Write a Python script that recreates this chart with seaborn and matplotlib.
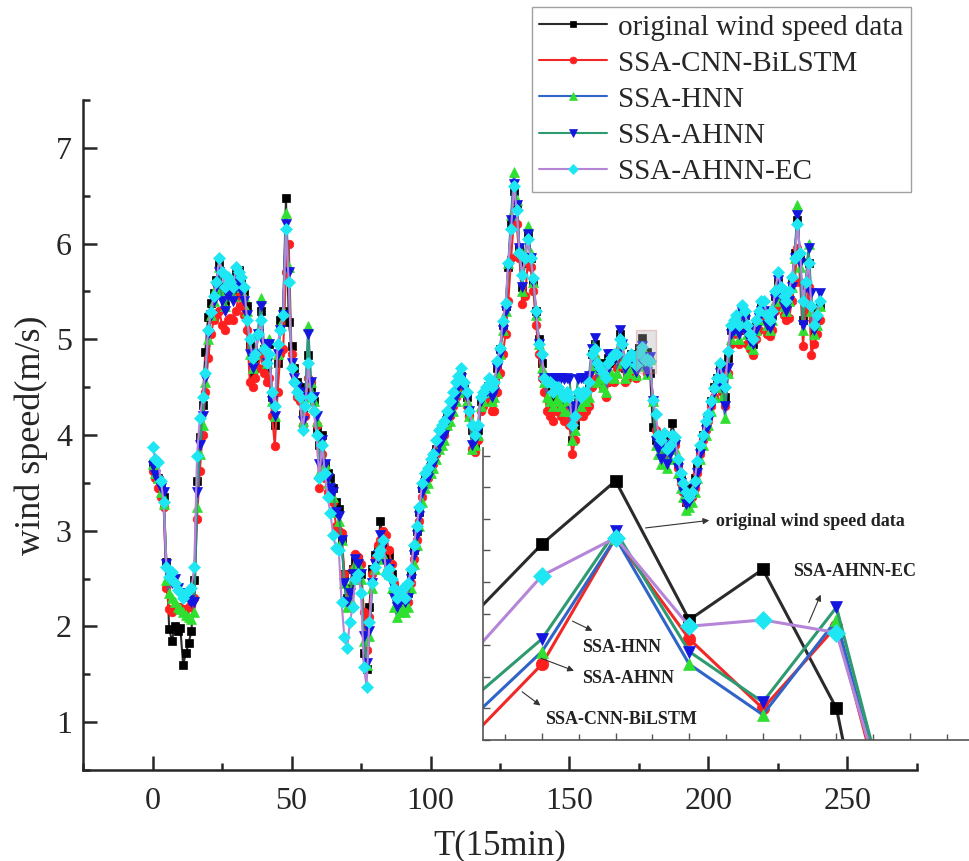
import numpy as np
import matplotlib
matplotlib.use("Agg")
import matplotlib.pyplot as plt
from matplotlib.patches import Rectangle
from matplotlib.ticker import MultipleLocator, NullFormatter
import seaborn as sns

sns.set_style("ticks")
plt.rcParams["font.family"] = ["Liberation Serif", "DejaVu Serif"]

# wind speed (m/s), one value per 15 min step, t = 0..240
original = [
    3.70, 3.62, 3.55, 3.45, 3.35, 2.67, 1.97, 1.85, 2.00, 1.95,
    1.98, 1.60, 1.72, 1.83, 1.95, 2.48, 3.52, 3.98, 4.31, 4.87,
    5.23, 5.38, 5.48, 5.62, 5.80, 5.55, 5.40, 5.55, 5.62, 5.50,
    5.70, 5.72, 5.60, 5.50, 5.35, 4.95, 4.62, 4.80, 5.05, 5.30,
    4.90, 4.70, 4.95, 4.40, 4.10, 4.75, 5.20, 5.30, 6.48, 5.18,
    4.93, 4.70, 4.55, 4.50, 4.22, 4.45, 4.84, 4.50, 4.35, 4.05,
    3.90, 4.00, 3.70, 3.60, 3.55, 3.45, 3.30, 3.23, 2.90, 2.55,
    2.30, 2.40, 2.60, 2.68, 2.70, 2.55, 1.72, 1.55, 2.20, 2.60,
    2.75, 2.80, 3.10, 2.85, 2.70, 2.75, 2.55, 2.40, 2.35, 2.25,
    2.30, 2.25, 2.35, 2.55, 2.80, 3.00, 3.20, 3.45, 3.55, 3.62,
    3.70, 3.75, 3.85, 3.95, 4.00, 4.05, 4.20, 4.25, 4.35, 4.45,
    4.50, 4.62, 4.50, 4.40, 4.25, 4.05, 3.90, 4.05, 4.35, 4.40,
    4.45, 4.50, 4.40, 4.45, 4.70, 4.90, 5.15, 5.35, 5.75, 6.20,
    6.55, 6.40, 5.95, 5.55, 5.80, 6.10, 5.85, 5.60, 5.30, 5.00,
    4.75, 4.60, 4.55, 4.50, 4.30, 4.35, 4.45, 4.40, 4.30, 4.35,
    4.30, 3.95, 4.10, 4.40, 4.35, 4.38, 4.40, 4.50, 4.85, 4.95,
    4.70, 4.75, 4.60, 4.55, 4.80, 4.75, 4.85, 4.80, 5.05, 4.95,
    4.70, 4.75, 4.85, 4.80, 4.79, 4.91, 5.01, 4.79, 4.87, 4.65,
    4.08, 3.95, 3.90, 3.85, 4.00, 3.80, 3.95, 4.13, 3.95, 3.70,
    3.55, 3.45, 3.30, 3.35, 3.45, 3.55, 3.70, 3.85, 4.00, 4.10,
    4.20, 4.35, 4.50, 4.60, 4.70, 4.55, 4.40, 4.80, 5.10, 5.15,
    5.20, 5.10, 5.30, 5.25, 5.10, 5.00, 4.95, 5.15, 5.25, 5.35,
    5.30, 5.20, 5.15, 5.25, 5.45, 5.60, 5.50, 5.40, 5.35, 5.45,
    5.60, 5.90, 6.25, 5.85, 5.20, 5.55, 5.80, 5.30, 5.05, 5.20, 5.35,
]

cnn_bilstm = [
    3.62, 3.55, 3.45, 3.35, 3.25, 2.40, 2.18, 2.15, 2.20, 2.18,
    2.20, 2.15, 2.18, 2.20, 2.22, 2.30, 3.12, 3.62, 4.00, 4.45,
    4.80, 5.05, 5.20, 5.25, 5.30, 5.15, 5.10, 5.20, 5.22, 5.20,
    5.30, 5.45, 5.35, 5.25, 5.10, 4.55, 4.50, 4.60, 4.70, 4.85,
    4.65, 4.55, 4.60, 4.20, 3.88, 4.45, 4.85, 4.90, 5.70, 6.00,
    4.85, 4.55, 4.40, 4.35, 4.10, 4.20, 4.60, 4.55, 4.25, 4.10,
    3.45, 3.80, 3.55, 3.40, 3.35, 3.30, 3.05, 3.00, 2.98, 2.55,
    2.25, 2.35, 2.60, 2.76, 2.72, 2.65, 2.15, 1.75, 2.10, 2.55,
    2.70, 2.85, 2.90, 3.00, 2.95, 2.80, 2.65, 2.45, 2.35, 2.30,
    2.25, 2.20, 2.25, 2.45, 2.70, 2.90, 3.10, 3.35, 3.50, 3.55,
    3.65, 3.70, 3.80, 3.90, 3.95, 4.00, 4.10, 4.20, 4.30, 4.40,
    4.45, 4.55, 4.45, 4.30, 4.20, 3.85, 3.82, 3.95, 4.25, 4.30,
    4.40, 4.35, 4.25, 4.25, 4.45, 4.65, 4.85, 5.05, 5.40, 5.85,
    6.25, 6.20, 5.85, 5.37, 5.45, 5.80, 5.75, 5.50, 5.15, 4.85,
    4.60, 4.45, 4.25, 4.20, 4.15, 4.25, 4.30, 4.20, 4.15, 4.25,
    4.10, 3.80, 3.95, 4.20, 4.25, 4.20, 4.25, 4.30, 4.50, 4.80,
    4.60, 4.55, 4.50, 4.40, 4.55, 4.60, 4.55, 4.70, 4.85, 4.75,
    4.55, 4.60, 4.65, 4.62, 4.60, 4.72, 4.92, 4.76, 4.65, 4.78,
    4.34, 4.05, 3.95, 3.85, 3.80, 3.80, 3.85, 3.95, 3.90, 3.65,
    3.50, 3.40, 3.30, 3.30, 3.35, 3.45, 3.60, 3.80, 3.95, 4.05,
    4.15, 4.30, 4.40, 4.50, 4.60, 4.45, 4.30, 4.65, 4.95, 5.05,
    5.10, 4.95, 5.15, 5.10, 4.95, 4.90, 4.84, 5.00, 5.10, 5.20,
    5.20, 5.05, 5.03, 5.10, 5.30, 5.45, 5.35, 5.25, 5.20, 5.22,
    5.40, 5.60, 5.95, 5.60, 4.93, 5.30, 5.55, 4.84, 4.95, 5.05, 5.20,
]

hnn = [
    3.70, 3.60, 3.55, 3.40, 3.28, 2.48, 2.35, 2.30, 2.25, 2.20,
    2.18, 2.15, 2.12, 2.10, 2.08, 2.15, 3.25, 3.80, 4.10, 4.55,
    5.00, 5.25, 5.40, 5.55, 5.75, 5.50, 5.35, 5.55, 5.55, 5.45,
    5.60, 5.65, 5.55, 5.45, 5.30, 4.85, 4.70, 4.85, 5.10, 5.43,
    4.95, 4.75, 5.00, 4.35, 4.20, 4.85, 5.15, 5.30, 6.32, 5.75,
    4.75, 4.60, 4.50, 4.45, 4.15, 4.40, 5.14, 4.55, 4.35, 4.15,
    3.60, 3.95, 3.70, 3.50, 3.40, 3.35, 3.20, 3.10, 2.90, 2.45,
    2.20, 2.30, 2.50, 2.65, 2.65, 2.50, 1.85, 1.60, 1.90, 2.40,
    2.60, 2.70, 2.85, 2.75, 2.60, 2.55, 2.40, 2.20, 2.10, 2.15,
    2.20, 2.15, 2.20, 2.40, 2.65, 2.85, 3.05, 3.30, 3.45, 3.50,
    3.60, 3.65, 3.75, 3.85, 3.90, 3.95, 4.10, 4.15, 4.25, 4.35,
    4.45, 4.55, 4.45, 4.35, 4.20, 3.85, 3.90, 4.00, 4.30, 4.35,
    4.45, 4.45, 4.35, 4.40, 4.65, 4.85, 5.10, 5.30, 5.80, 6.30,
    6.75, 6.45, 5.95, 5.50, 5.90, 6.18, 5.90, 5.60, 5.25, 4.95,
    4.70, 4.55, 4.40, 4.35, 4.30, 4.35, 4.40, 4.30, 4.25, 4.35,
    4.25, 3.95, 4.05, 4.35, 4.30, 4.35, 4.35, 4.40, 4.70, 4.85,
    4.55, 4.60, 4.50, 4.45, 4.65, 4.65, 4.60, 4.65, 4.95, 4.75,
    4.60, 4.65, 4.70, 4.70, 4.63, 4.74, 4.92, 4.72, 4.64, 4.79,
    4.35, 3.90, 3.80, 3.70, 3.87, 3.65, 3.75, 3.90, 3.85, 3.60,
    3.45, 3.35, 3.22, 3.25, 3.30, 3.40, 3.55, 3.75, 3.90, 4.00,
    4.10, 4.25, 4.40, 4.50, 4.60, 4.40, 4.18, 4.65, 5.00, 5.10,
    5.15, 5.00, 5.25, 5.20, 5.05, 4.95, 4.90, 5.10, 5.20, 5.30,
    5.30, 5.15, 5.10, 5.20, 5.40, 5.60, 5.45, 5.35, 5.30, 5.40,
    5.55, 5.85, 6.40, 5.75, 5.10, 5.60, 5.99, 5.30, 5.05, 5.15, 5.35,
]

ahnn = [
    3.68, 3.58, 3.52, 3.45, 3.40, 2.65, 2.55, 2.45, 2.50, 2.40,
    2.35, 2.30, 2.32, 2.28, 2.25, 2.25, 3.40, 3.90, 4.20, 4.60,
    5.05, 5.25, 5.40, 5.55, 5.70, 5.40, 5.30, 5.45, 5.50, 5.40,
    5.55, 5.60, 5.50, 5.40, 5.25, 4.85, 4.70, 4.85, 5.05, 5.35,
    4.95, 4.75, 4.95, 4.35, 4.20, 4.85, 5.10, 5.25, 6.20, 5.70,
    4.75, 4.60, 4.50, 4.45, 4.15, 4.40, 5.05, 4.55, 4.40, 4.20,
    3.70, 3.95, 3.70, 3.55, 3.45, 3.40, 3.20, 3.15, 2.90, 2.45,
    2.25, 2.35, 2.55, 2.70, 2.65, 2.55, 1.90, 1.62, 1.95, 2.45,
    2.65, 2.75, 2.95, 2.85, 2.65, 2.60, 2.45, 2.30, 2.20, 2.25,
    2.30, 2.25, 2.30, 2.50, 2.75, 2.95, 3.15, 3.40, 3.50, 3.55,
    3.65, 3.70, 3.80, 3.90, 3.95, 4.00, 4.15, 4.20, 4.30, 4.40,
    4.50, 4.60, 4.50, 4.40, 4.25, 3.90, 3.95, 4.05, 4.35, 4.40,
    4.45, 4.50, 4.40, 4.45, 4.70, 4.85, 5.10, 5.30, 5.75, 6.25,
    6.62, 6.40, 5.95, 5.55, 5.85, 6.10, 5.85, 5.60, 5.25, 4.95,
    4.80, 4.60, 4.60, 4.60, 4.60, 4.60, 4.60, 4.60, 4.58, 4.60,
    4.58, 4.25, 4.30, 4.58, 4.60, 4.60, 4.60, 4.62, 4.90, 5.01,
    4.70, 4.70, 4.70, 4.65, 4.85, 4.85, 4.80, 4.85, 5.10, 4.95,
    4.70, 4.75, 4.80, 4.78, 4.66, 4.76, 4.93, 4.74, 4.66, 4.81,
    4.36, 3.94, 3.85, 3.75, 3.90, 3.70, 3.80, 3.95, 3.90, 3.65,
    3.50, 3.40, 3.28, 3.30, 3.35, 3.45, 3.60, 3.80, 3.95, 4.05,
    4.15, 4.30, 4.45, 4.55, 4.65, 4.50, 4.30, 4.70, 5.05, 5.10,
    5.15, 5.05, 5.28, 5.20, 5.05, 4.98, 4.95, 5.10, 5.22, 5.30,
    5.30, 5.15, 5.12, 5.22, 5.42, 5.62, 5.45, 5.35, 5.30, 5.40,
    5.55, 5.85, 6.30, 5.80, 5.15, 5.55, 5.95, 5.48, 5.10, 5.20, 5.48,
]

ahnn_ec = [
    3.87, 3.75, 3.72, 3.52, 3.30, 2.62, 2.52, 2.57, 2.45, 2.38,
    2.36, 2.30, 2.35, 2.38, 2.40, 2.62, 3.78, 4.18, 4.40, 4.65,
    5.10, 5.28, 5.45, 5.60, 5.85, 5.70, 5.55, 5.65, 5.60, 5.55,
    5.75, 5.70, 5.65, 5.55, 5.20, 5.00, 4.80, 4.85, 5.05, 5.20,
    4.90, 4.75, 4.85, 4.45, 4.30, 4.95, 5.10, 5.25, 6.15, 5.60,
    4.70, 4.55, 4.45, 4.40, 4.05, 4.30, 4.75, 4.40, 4.25, 4.00,
    3.55, 3.90, 3.60, 3.35, 3.18, 2.95, 2.82, 2.80, 2.25, 1.89,
    1.77, 2.05, 2.20, 2.50, 2.55, 2.35, 1.58, 1.37, 2.05, 2.45,
    2.62, 2.75, 2.80, 2.90, 2.55, 2.60, 2.50, 2.40, 2.30, 2.35,
    2.40, 2.30, 2.45, 2.60, 2.85, 3.05, 3.25, 3.50, 3.60, 3.65,
    3.75, 3.80, 3.95, 4.05, 4.10, 4.15, 4.25, 4.35, 4.45, 4.55,
    4.62, 4.70, 4.55, 4.45, 4.25, 4.10, 4.00, 4.10, 4.40, 4.45,
    4.50, 4.60, 4.50, 4.55, 4.77, 4.91, 5.19, 5.38, 5.80, 6.15,
    6.60, 6.35, 5.90, 5.67, 5.85, 6.05, 5.85, 5.64, 5.30, 4.95,
    4.85, 4.60, 4.55, 4.55, 4.45, 4.50, 4.50, 4.45, 4.40, 4.45,
    4.40, 4.10, 4.20, 4.45, 4.40, 4.45, 4.45, 4.55, 4.85, 4.90,
    4.75, 4.70, 4.65, 4.60, 4.75, 4.80, 4.85, 4.85, 5.00, 4.95,
    4.75, 4.80, 4.85, 4.82, 4.73, 4.86, 4.92, 4.78, 4.79, 4.77,
    4.37, 4.22, 4.00, 3.95, 4.02, 3.85, 3.90, 4.00, 3.98, 3.75,
    3.60, 3.50, 3.40, 3.35, 3.40, 3.52, 3.73, 3.90, 4.00, 4.15,
    4.22, 4.36, 4.49, 4.60, 4.75, 4.60, 4.50, 4.88, 5.15, 5.20,
    5.25, 5.15, 5.36, 5.30, 5.15, 5.05, 5.00, 5.20, 5.30, 5.40,
    5.40, 5.25, 5.20, 5.30, 5.50, 5.70, 5.55, 5.45, 5.40, 5.50,
    5.65, 5.85, 6.20, 5.90, 5.40, 5.60, 5.80, 5.35, 5.15, 5.25, 5.40,
]

t = np.arange(len(original))

labels = ["original wind speed data", "SSA-CNN-BiLSTM", "SSA-HNN",
          "SSA-AHNN", "SSA-AHNN-EC"]
series = [original, cnn_bilstm, hnn, ahnn, ahnn_ec]
line_colors = ["#2b2b2b", "#f02828", "#2f64c8", "#2e9a70", "#b585d8"]
marker_colors = ["#000000", "#ff1f1f", "#30e030", "#1515e0", "#1ee6f2"]
markers = ["s", "o", "^", "v", "D"]
msizes = [5.8, 6.2, 6.8, 6.8, 6.4]

fig = plt.figure(figsize=(9.69, 8.61), dpi=100)
ax = fig.add_axes([0.0857, 0.1057, 0.8606, 0.7782])

for y, lab, lc, mc, mk, ms in zip(series, labels, line_colors, marker_colors, markers, msizes):
    sns.lineplot(x=t, y=y, ax=ax, color=lc, lw=1.5, marker=mk, markersize=ms,
                 markerfacecolor=mc, markeredgecolor=mc, markeredgewidth=0.5,
                 label=lab, legend=False)

ax.add_patch(Rectangle((174, 4.65), 7, 0.45, facecolor="#b0b0b0", alpha=0.35,
                       edgecolor="#e07070", lw=1.0, zorder=5))

ax.set_xlim(-25, 275)
ax.set_ylim(0.5, 7.5)
ax.xaxis.set_major_locator(MultipleLocator(50))
ax.xaxis.set_minor_locator(MultipleLocator(25))
ax.yaxis.set_major_locator(MultipleLocator(1))
ax.yaxis.set_minor_locator(MultipleLocator(0.5))
ax.tick_params(which="both", direction="in", width=1.8, labelsize=23, pad=8)
ax.tick_params(axis="x", which="both", pad=12)
ax.tick_params(which="major", length=10)
ax.tick_params(which="minor", length=5)
for s in ["top", "right"]:
    ax.spines[s].set_visible(False)
for s in ["left", "bottom"]:
    ax.spines[s].set_linewidth(1.8)
ax.set_xlabel("T(15min)", fontsize=25, labelpad=10)
ax.set_ylabel("wind speed(m/s)", fontsize=26, labelpad=6)

handles, labs = ax.get_legend_handles_labels()
leg = ax.legend(handles, labs, loc="upper right", bbox_to_anchor=(0.940, 0.992),
                bbox_transform=fig.transFigure, fontsize=21, frameon=True,
                fancybox=False, edgecolor="#888888", handlelength=2.3,
                borderpad=0.25, labelspacing=0.33, handletextpad=0.4,
                borderaxespad=0, markerscale=0.8)
leg.get_frame().set_linewidth(1.0)

# zoomed inset
ax_in = fig.add_axes([0.4985, 0.1405, 0.5015, 0.3392])
ax_in.set_facecolor("none")
for y, lab, lc, mc, mk in zip(series, labels, line_colors, marker_colors, markers):
    sns.lineplot(x=t, y=y, ax=ax_in, color=lc, lw=2.2, marker=mk, markersize=9,
                 markerfacecolor=mc, markeredgecolor=mc, markeredgewidth=0.5,
                 legend=False)
ax_in.set_xlim(174.2, 180.8)
ax_in.set_ylim(4.6, 5.062)
ax_in.xaxis.set_major_locator(MultipleLocator(1))
ax_in.xaxis.set_minor_locator(MultipleLocator(0.5))
ax_in.yaxis.set_major_locator(MultipleLocator(0.05))
ax_in.xaxis.set_major_formatter(NullFormatter())
ax_in.yaxis.set_major_formatter(NullFormatter())
ax_in.set_xlabel("")
ax_in.set_ylabel("")
ax_in.tick_params(which="both", direction="in", color="#555555", width=1.0)
ax_in.tick_params(which="major", length=5)
ax_in.tick_params(which="minor", length=4)
for s in ["top", "right"]:
    ax_in.spines[s].set_visible(False)
for s in ["left", "bottom"]:
    ax_in.spines[s].set_color("#555555")
    ax_in.spines[s].set_linewidth(1.2)

ann_font = dict(fontsize=13, fontweight="bold", va="center", ha="left", color="#222222")
arrow = dict(arrowstyle="-|>", color="#333333", lw=0.8, mutation_scale=9)
ax_in.text(177.37, 4.945, "original wind speed data", **ann_font)
ax_in.annotate("", xy=(177.31, 4.948), xytext=(176.37, 4.935), arrowprops=arrow)
ax_in.text(178.41, 4.866, "SSA-AHNN-EC", **ann_font)
ax_in.annotate("", xy=(178.80, 4.834), xytext=(178.61, 4.782), arrowprops=arrow)
ax_in.text(175.54, 4.747, "SSA-HNN", **ann_font)
ax_in.annotate("", xy=(175.72, 4.771), xytext=(175.38, 4.790), arrowprops=arrow)
ax_in.text(175.54, 4.697, "SSA-AHNN", **ann_font)
ax_in.annotate("", xy=(175.47, 4.708), xytext=(174.95, 4.731), arrowprops=arrow)
ax_in.text(175.04, 4.632, "SSA-CNN-BiLSTM", **ann_font)
ax_in.annotate("", xy=(175.01, 4.652), xytext=(174.70, 4.679), arrowprops=arrow)

fig.savefig("out.png", dpi=100)
